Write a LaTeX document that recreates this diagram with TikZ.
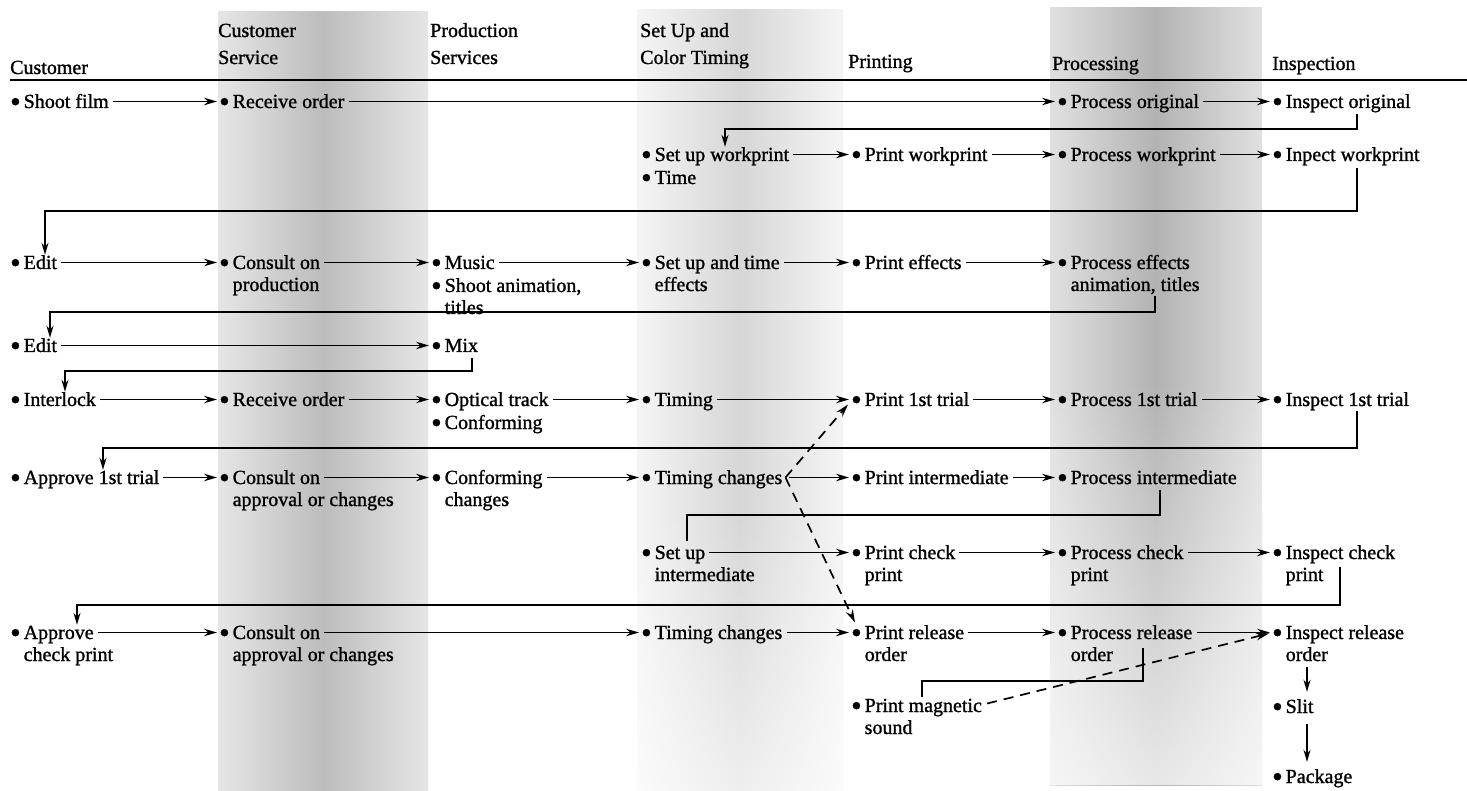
\documentclass[tikz,border=0pt]{standalone}
\usepackage{fontspec}
\setmainfont{Liberation Serif}
\newfontfamily\itface{Liberation Serif}[FakeBold=1.2]
\usetikzlibrary{arrows.meta,calc,fadings}
\newcommand\bul{\smash{\raisebox{-3.6pt}{\fontsize{30}{0}\selectfont\textbullet}}\hspace{3pt}}
\newcommand\cont{\hphantom{\bul}}
\newcommand\itfont{\itface\fontsize{20}{22}\selectfont}
\begin{document}
\begin{tikzpicture}[x=1pt,y=-1pt,
  it/.style={anchor=base west,inner sep=0pt,text height=13pt,text depth=0pt,font=\itfont},
  hd/.style={anchor=base west,inner sep=0pt,font=\itfont},
  ar/.style={line width=1.7pt,-{Stealth[length=13pt,width=7.5pt]},shorten <=4pt,shorten >=2pt},
  rl/.style={line width=1.7pt,-{Stealth[length=12pt,width=7pt]}},
  ln/.style={line width=1.7pt},
  da/.style={line width=1.7pt,dash pattern=on 10pt off 7pt,-{Stealth[length=13pt,width=7.5pt]}}]
\useasboundingbox (0,0) rectangle (1467,791);
\fill[white] (0,0) rectangle (1467,791);
% shaded columns
\shade[left color=black!10,right color=black!10,middle color=black!26] (218,12) rectangle (428,791);
\shade[left color=black!4,right color=black!4,middle color=black!16] (637,10) rectangle (843,791);
\shade[left color=black!12,right color=black!12,middle color=black!30] (1050,8) rectangle (1262,785);
\fill[white,path fading=north,fill opacity=0.7] (1050,380) rectangle (1262,785);
\fill[white,path fading=north,fill opacity=0.6] (637,500) rectangle (843,791);
% headers
\node[hd] (hcust) at (10,74) {Customer};
\node[hd] (hcs1) at (218,37) {Customer};
\node[hd] (hcs2) at (218,64) {Service};
\node[hd] (hps1) at (430,37) {Production};
\node[hd] (hps2) at (430,64) {Services};
\node[hd] (hsu1) at (640,37) {Set Up and};
\node[hd] (hsu2) at (640,64) {Color Timing};
\node[hd] (hpr) at (848,68) {Printing};
\node[hd] (hproc) at (1052,70) {Processing};
\node[hd] (hinsp) at (1272,70) {Inspection};
\coordinate (hl0) at (10,80);
\coordinate (hl1) at (1467,80);
\draw[line width=1.3pt] (hl0) -- (hl1);
% row 1
\node[it] (shoot) at (10,108) {\bul Shoot film};
\node[it] (recv1) at (219,108) {\bul Receive order};
\node[it] (proc1) at (1057,108) {\bul Process original};
\node[it] (insp1) at (1272,108) {\bul Inspect original};
% row 2
\node[it] (setw) at (641,161) {\bul Set up workprint};
\node[it] (time2) at (641,184) {\bul Time};
\node[it] (printw) at (851,161) {\bul Print workprint};
\node[it] (procw) at (1057,161) {\bul Process workprint};
\node[it] (inspw) at (1272,161) {\bul Inpect workprint};
% row 3
\node[it] (edit1) at (10,269) {\bul Edit};
\node[it] (cons3) at (219,269) {\bul Consult on};
\node[it] (cons3b) at (219,291) {\cont production};
\node[it] (music) at (431,269) {\bul Music};
\node[it] (shootan) at (431,292) {\bul Shoot animation,};
\node[it] (titles) at (431,314) {\cont titles};
\node[it] (setfx) at (641,269) {\bul Set up and time};
\node[it] (setfxb) at (641,291) {\cont effects};
\node[it] (printfx) at (851,269) {\bul Print effects};
\node[it] (procfx) at (1057,269) {\bul Process effects};
\node[it] (procfxb) at (1057,291) {\cont animation, titles};
% row 4
\node[it] (edit2) at (10,352) {\bul Edit};
\node[it] (mix) at (431,352) {\bul Mix};
% row 5
\node[it] (interlock) at (10,406) {\bul Interlock};
\node[it] (recv5) at (219,406) {\bul Receive order};
\node[it] (optical) at (431,406) {\bul Optical track};
\node[it] (conforming) at (431,429) {\bul Conforming};
\node[it] (timing5) at (641,406) {\bul Timing};
\node[it] (print5) at (851,406) {\bul Print 1st trial};
\node[it] (proc5) at (1057,406) {\bul Process 1st trial};
\node[it] (insp5) at (1272,406) {\bul Inspect 1st trial};
% row 6
\node[it] (appr6) at (10,484) {\bul Approve 1st trial};
\node[it] (cons6) at (219,484) {\bul Consult on};
\node[it] (cons6b) at (219,506) {\cont approval or changes};
\node[it] (conf6) at (431,484) {\bul Conforming};
\node[it] (conf6b) at (431,506) {\cont changes};
\node[it] (timch6) at (641,484) {\bul Timing changes};
\node[it] (printint) at (851,484) {\bul Print intermediate};
\node[it] (procint) at (1057,484) {\bul Process intermediate};
% row 7
\node[it] (setint) at (641,559) {\bul Set up};
\node[it] (setintb) at (641,581) {\cont intermediate};
\node[it] (printchk) at (851,559) {\bul Print check};
\node[it] (printchkb) at (851,581) {\cont print};
\node[it] (procchk) at (1057,559) {\bul Process check};
\node[it] (procchkb) at (1057,581) {\cont print};
\node[it] (inspchk) at (1272,559) {\bul Inspect check};
\node[it] (inspchkb) at (1272,581) {\cont print};
% row 8
\node[it] (appr8) at (10,639) {\bul Approve};
\node[it] (appr8b) at (10,661) {\cont check print};
\node[it] (cons8) at (219,639) {\bul Consult on};
\node[it] (cons8b) at (219,661) {\cont approval or changes};
\node[it] (timch8) at (641,639) {\bul Timing changes};
\node[it] (printrel) at (851,639) {\bul Print release};
\node[it] (printrelb) at (851,661) {\cont order};
\node[it] (procrel) at (1057,639) {\bul Process release};
\node[it] (procrelb) at (1057,661) {\cont order};
\node[it] (insprel) at (1272,639) {\bul Inspect release};
\node[it] (insprelb) at (1272,661) {\cont order};
\node[it] (magn) at (851,712) {\bul Print magnetic};
\node[it] (magnb) at (851,734) {\cont sound};
\node[it] (slit) at (1272,713) {\bul Slit};
\node[it] (package) at (1272,783) {\bul Package};
% horizontal arrows
\draw[ar] (shoot.east) -- (recv1.west);
\draw[ar] (recv1.east) -- (proc1.west);
\draw[ar] (proc1.east) -- (insp1.west);
\draw[ar] (setw.east) -- (printw.west);
\draw[ar] (printw.east) -- (procw.west);
\draw[ar] (procw.east) -- (inspw.west);
\draw[ar] (edit1.east) -- (cons3.west);
\draw[ar] (cons3.east) -- (music.west);
\draw[ar] (music.east) -- (setfx.west);
\draw[ar] (setfx.east) -- (printfx.west);
\draw[ar] (printfx.east) -- (procfx.west);
\draw[ar] (edit2.east) -- (mix.west);
\draw[ar] (interlock.east) -- (recv5.west);
\draw[ar] (recv5.east) -- (optical.west);
\draw[ar] (optical.east) -- (timing5.west);
\draw[ar] (timing5.east) -- (print5.west);
\draw[ar] (print5.east) -- (proc5.west);
\draw[ar] (proc5.east) -- (insp5.west);
\draw[ar] (appr6.east) -- (cons6.west);
\draw[ar] (cons6.east) -- (conf6.west);
\draw[ar] (conf6.east) -- (timch6.west);
\coordinate (V) at ($(timch6.east)+(3,0)$);
\draw[ar,shorten <=3pt] (V) -- (printint.west);
\draw[ar] (printint.east) -- (procint.west);
\draw[ar] (setint.east) -- (printchk.west);
\draw[ar] (printchk.east) -- (procchk.west);
\draw[ar] (procchk.east) -- (inspchk.west);
\draw[ar] (appr8.east) -- (cons8.west);
\draw[ar] (cons8.east) -- (timch8.west);
\draw[ar] (timch8.east) -- (printrel.west);
\draw[ar] (printrel.east) -- (procrel.west);
\draw[ar] (procrel.east) -- (insprel.west);
% dashed
\draw[da] (V) -- ($(print5.west)+(-3,5)$);
\draw[da] (V) -- ($(printrel.west)+(4,-10)$);
\draw[da] ($(magn.east)+(5,-2)$) -- ($(insprel.west)+(-3,1)$);
% return lines
\draw[rl] ($(insp1.base west)+(85,6)$) -- ++(0,15) -| ($(setw.north west)+(84,-1)$);
\draw[rl] ($(inspw.base west)+(85,7)$) -- ++(0,43) -| ($(edit1.north west)+(35,-1)$);
\draw[rl] ($(procfxb.base west)+(98,5)$) -- ++(0,16) -| ($(edit2.north west)+(40,-1)$);
\draw[rl] ($(mix.base west)+(41,6)$) -- ++(0,13) -| ($(interlock.north west)+(55,-1)$);
\draw[rl] ($(insp5.base west)+(85,5)$) -- ++(0,37) -| ($(appr6.north west)+(93,-1)$);
\draw[ln] ($(procint.base west)+(103,6)$) -- ++(0,25) -| ($(setint.north west)+(46,-5)$);
\draw[rl] ($(inspchkb.base west)+(68,-14)$) -- ++(0,38) -| ($(appr8.north west)+(67,-1)$);
\draw[ln] ($(procrelb.base west)+(86,-13)$) |- ($(magn.north west)+(71,-18)$) -- ($(magn.north west)+(71,-2)$);
% vertical arrows
\draw[rl] ($(insprelb.south west)+(35,6)$) -- ($(slit.north west)+(35,-8)$);
\draw[rl] ($(slit.south west)+(35,11)$) -- ($(package.north west)+(35,-8)$);
\end{tikzpicture}
\end{document}
